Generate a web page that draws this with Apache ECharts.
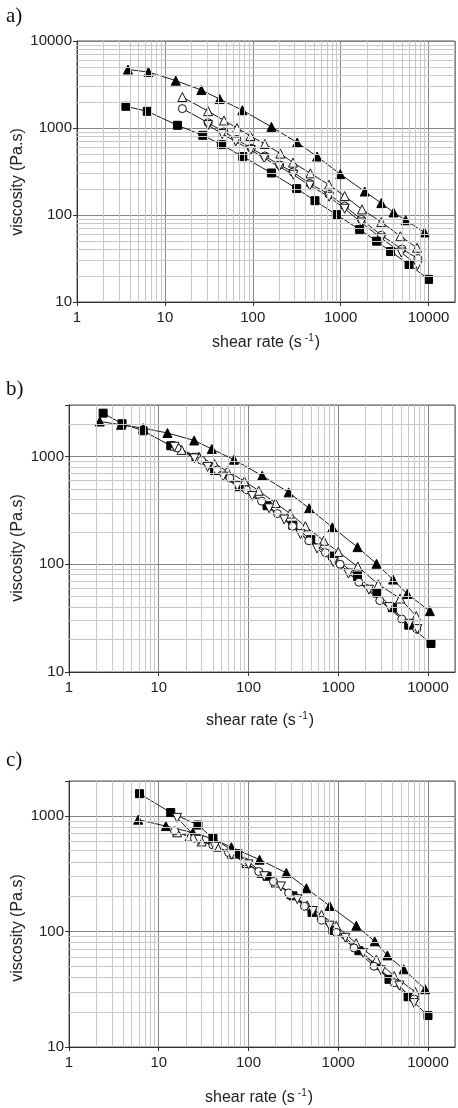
<!DOCTYPE html>
<html>
<head>
<meta charset="utf-8">
<script src="https://cdn.jsdelivr.net/npm/echarts@6/dist/echarts.min.js"></script>
<style>
html,body{margin:0;padding:0;background:#fff;}
#chart{width:458px;height:1108px;}
</style>
</head>
<body>
<div id="chart"></div>
<script>
// ---------- DATA ----------
const xTickLabels = ['1', '10', '100', '1000', '10000'];
const yTickLabelsA = ['10', '100', '1000', '10000'];
const yTickLabelsBC = ['10', '100', '1000'];
const panelLabels = ['a)', 'b)', 'c)'];
const xTitle = 'shear rate (s';
const xTitleSup = '-1';
const yTitle = 'viscosity (Pa.s)';

// panel a
const aFTriX = [3.8, 6.5, 13.3, 26, 42, 76, 163, 320, 540, 990, 1880, 2900, 4000, 5500, 9000];
const aFTriY = [4700, 4400, 3500, 2730, 2150, 1600, 1030, 680, 470, 295, 186, 137, 107, 87, 63];
const aOTriX = [15.8, 31, 47, 66, 94, 137, 206, 287, 452, 736, 1110, 1750, 2900, 4780, 7400];
const aOTriY = [2270, 1560, 1220, 1000, 810, 655, 508, 400, 301, 223, 165, 116, 83, 57, 42];
const aCircX = [15.8, 31, 47, 66, 96, 137, 202, 287, 444, 736, 1110, 1720, 2900, 4980, 7570];
const aCircY = [1670, 1150, 900, 740, 584, 477, 376, 312, 231, 173, 127, 89, 58.5, 40.6, 31.6];
const aNablaX = [31, 45, 64, 95, 135, 200, 290, 445, 740, 1110, 1720, 2900, 4900, 7500];
const aNablaY = [1080, 850, 700, 560, 450, 360, 290, 218, 162, 118, 82, 54, 37, 26.5];
const aSqX = [3.6, 6.3, 13.9, 27, 44, 77, 163, 316, 510, 893, 1645, 2565, 3700, 6000, 10000];
const aSqY = [1775, 1555, 1074, 824, 644, 469, 304, 201, 146, 101, 68, 50, 38, 27, 18.2];

// panel b
const bFTriX = [2.2, 3.8, 6.7, 12.5, 24.8, 39, 69, 142, 280, 474, 860, 1640, 2670, 4080, 5880, 10500];
const bFTriY = [2110, 1965, 1830, 1650, 1407, 1172, 932, 662, 464, 330, 220, 144, 101, 72, 53, 36.7];
const bSqX = [2.4, 3.9, 6.7, 13.6, 26, 42, 78, 161, 312, 494, 867, 1640, 2700, 4010, 6100, 10800];
const bSqY = [2520, 2010, 1730, 1256, 980, 740, 524, 349, 230, 169, 119, 77, 54, 39.5, 27.2, 18.4];
const bOTriX = [15, 18, 28, 42, 58, 90, 130, 200, 290, 430, 690, 1000, 1650, 2800, 4900, 7400];
const bOTriY = [1260, 1150, 990, 850, 730, 590, 480, 370, 295, 225, 165, 130, 95, 65, 48, 33];
const bCircX = [16, 30, 45, 62, 95, 140, 210, 310, 470, 720, 1050, 1700, 2900, 5100, 7500];
const bCircY = [1200, 920, 750, 630, 490, 385, 295, 225, 165, 128, 100, 68, 46, 31, 25];
const bNablaX = [15, 25, 35, 52, 75, 110, 170, 250, 380, 580, 880, 1300, 2200, 3700, 6200, 7600];
const bNablaY = [1230, 960, 800, 650, 530, 430, 330, 260, 190, 140, 105, 82, 58, 40, 28, 25];

// panel c
const cFTriX = [5.9, 12, 24, 40, 64.5, 133, 264, 442, 803, 1590, 2550, 3530, 5360, 9300];
const cFTriY = [925, 815, 715, 631, 535, 417, 321, 236, 166, 112, 82, 62, 47, 31.6];
const cSqX = [6.1, 13.6, 27.4, 40.2, 76, 161, 313, 510, 874, 1700, 2600, 3675, 6000, 10000];
const cSqY = [1553, 1067, 832, 639, 470, 300, 203, 146, 102, 68, 51, 38.5, 27.2, 18.7];
const cOTriX = [16, 22, 30, 45, 65, 95, 140, 200, 300, 450, 650, 950, 1580, 2660, 4200, 7200];
const cOTriY = [720, 660, 600, 540, 470, 390, 320, 265, 210, 168, 139, 112, 79, 57, 41, 30];
const cCircX = [15, 25, 40, 60, 90, 130, 190, 280, 420, 650, 950, 1500, 2500, 4200, 7000];
const cCircY = [740, 640, 560, 480, 400, 330, 270, 215, 165, 125, 98, 72, 50, 36, 26];
const cNablaX = [16, 28, 42, 65, 100, 150, 230, 350, 520, 800, 1200, 1900, 3000, 4800, 7000];
const cNablaY = [960, 620, 540, 460, 380, 300, 245, 190, 150, 112, 88, 65, 46, 34, 24];

// ---------- LAYOUT ----------
const grids = [
  {left: 77, top: 41, width: 378, height: 261, ymax: 10000, ylabels: yTickLabelsA},
  {left: 69, top: 405, width: 386, height: 267, ymax: 3000, ylabels: yTickLabelsBC},
  {left: 69, top: 781, width: 386, height: 266, ymax: 2000, ylabels: yTickLabelsBC}
];
const XMIN = 1, XMAX = 20000, YMIN = 10;

function minorValues(lo, hi) {
  const out = [];
  for (let d = lo; d < hi; d *= 10) {
    for (let k = 2; k <= 9; k++) {
      const v = k * d;
      if (v < hi) out.push(v);
    }
  }
  return out;
}

const STY = {
  ftri: {symbol: 'triangle', symbolSize: 9, symbolRotate: 0, itemStyle: {color: '#000', borderColor: '#000', borderWidth: 1}},
  otri: {symbol: 'triangle', symbolSize: 9, symbolRotate: 0, itemStyle: {color: '#fff', borderColor: '#111', borderWidth: 1}},
  circ: {symbol: 'circle', symbolSize: 8, symbolRotate: 0, itemStyle: {color: '#fff', borderColor: '#111', borderWidth: 1}},
  nabla: {symbol: 'triangle', symbolSize: 9, symbolRotate: 180, itemStyle: {color: '#fff', borderColor: '#111', borderWidth: 1}},
  sq: {symbol: 'rect', symbolSize: 8, symbolRotate: 0, itemStyle: {color: '#000', borderColor: '#000', borderWidth: 1}}
};

function mk(xs, ys, gi, st) {
  const s = STY[st];
  return {
    type: 'line', xAxisIndex: gi, yAxisIndex: gi,
    data: xs.map((x, i) => [x, ys[i]]),
    symbol: s.symbol, symbolSize: s.symbolSize, symbolRotate: s.symbolRotate,
    showAllSymbol: true,
    itemStyle: s.itemStyle,
    lineStyle: {color: '#1a1a1a', width: 1},
    z: 3, silent: true, animation: false
  };
}

const panelsData = [
  [[aFTriX, aFTriY, 'ftri'], [aOTriX, aOTriY, 'otri'], [aCircX, aCircY, 'circ'], [aNablaX, aNablaY, 'nabla'], [aSqX, aSqY, 'sq']],
  [[bFTriX, bFTriY, 'ftri'], [bSqX, bSqY, 'sq'], [bOTriX, bOTriY, 'otri'], [bCircX, bCircY, 'circ'], [bNablaX, bNablaY, 'nabla']],
  [[cFTriX, cFTriY, 'ftri'], [cSqX, cSqY, 'sq'], [cOTriX, cOTriY, 'otri'], [cCircX, cCircY, 'circ'], [cNablaX, cNablaY, 'nabla']]
];

const labelFont = 'Liberation Sans';
const option = {
  backgroundColor: '#fff',
  animation: false,
  grid: grids.map(g => ({left: g.left, top: g.top, width: g.width, height: g.height, show: true, borderColor: '#555', borderWidth: 1, backgroundColor: 'transparent'})),
  xAxis: grids.map((g, i) => ({
    type: 'log', logBase: 10, min: XMIN, max: XMAX, gridIndex: i,
    axisLine: {show: true, onZero: false, lineStyle: {color: '#333', width: 1}},
    axisTick: {show: true, inside: false, length: 4, lineStyle: {color: '#333'}},
    axisLabel: {
      margin: 8, fontSize: 15, color: '#222', fontFamily: labelFont,
      showMaxLabel: false,
      formatter: v => { const s = String(Math.round(v)); return xTickLabels.includes(s) ? s : ''; }
    },
    splitLine: {show: true, lineStyle: {color: '#858585', width: 1}}
  })),
  yAxis: grids.map((g, i) => ({
    type: 'log', logBase: 10, min: YMIN, max: g.ymax, gridIndex: i,
    axisLine: {show: true, onZero: false, lineStyle: {color: '#333', width: 1}},
    axisTick: {show: true, inside: false, length: 4, lineStyle: {color: '#333'}},
    axisLabel: {
      margin: 5, fontSize: 15, color: '#222', fontFamily: labelFont,
      formatter: v => { const s = String(Math.round(v)); return g.ylabels.includes(s) ? s : ''; }
    },
    splitLine: {show: true, lineStyle: {color: '#858585', width: 1}}
  })),
  series: [],
  graphic: []
};

grids.forEach((g, i) => {
  const mx = minorValues(XMIN, XMAX).map(v => ({xAxis: v}));
  const my = minorValues(YMIN, g.ymax).map(v => ({yAxis: v}));
  option.series.push({
    type: 'line', xAxisIndex: i, yAxisIndex: i, data: [], silent: true, z: 1, animation: false,
    markLine: {
      silent: true, animation: false, symbol: ['none', 'none'], label: {show: false},
      lineStyle: {color: '#c8c8c8', type: 'solid', width: 1},
      emphasis: {disabled: true},
      data: mx.concat(my)
    }
  });
  panelsData[i].forEach(d => option.series.push(mk(d[0], d[1], i, d[2])));
});

const letterY = [16, 389, 760];
const yTitleY = [182, 548, 928];
const xTitlePos = [[266, 343], [260, 721], [259, 1098]];
grids.forEach((g, i) => {
  option.graphic.push({
    type: 'text', x: 6, y: letterY[i], silent: true,
    style: {text: panelLabels[i], fontSize: 21, fontFamily: 'Liberation Serif', fill: '#111', align: 'left', verticalAlign: 'middle'}
  });
  option.graphic.push({
    type: 'text', x: 18, y: yTitleY[i], rotation: Math.PI / 2, silent: true,
    style: {text: yTitle, fontSize: 16, fontFamily: labelFont, fill: '#222', align: 'center', verticalAlign: 'middle'}
  });
  option.graphic.push({
    type: 'text', x: xTitlePos[i][0], y: xTitlePos[i][1], silent: true,
    style: {
      text: '{n|' + xTitle + '}{s|' + xTitleSup + '}{n|)}',
      align: 'center', verticalAlign: 'middle', fill: '#222',
      rich: {
        n: {fontSize: 16, fontFamily: labelFont, lineHeight: 20, fill: '#222'},
        s: {fontSize: 10, fontFamily: labelFont, lineHeight: 12, verticalAlign: 'top', padding: [0, 1, 0, 3], fill: '#222'}
      }
    }
  });
});

const chart = echarts.init(document.getElementById('chart'), null, {renderer: 'canvas'});
chart.setOption(option);
</script>
</body>
</html>
